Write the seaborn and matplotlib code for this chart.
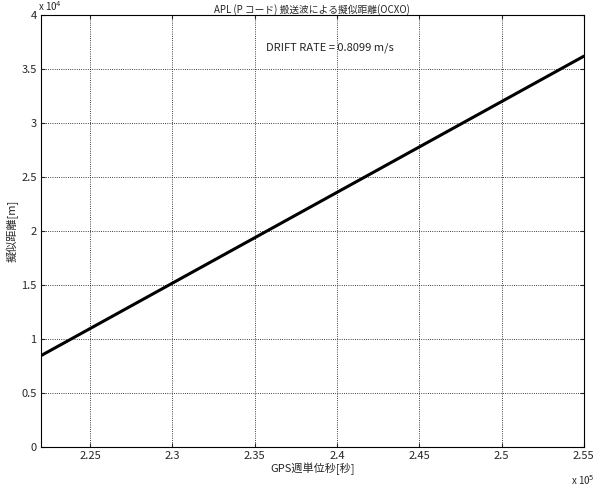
import matplotlib
matplotlib.use("Agg")
import matplotlib.pyplot as plt
import seaborn as sns
import pandas as pd

x_sec = [222000, 255000]
y_m = [8450, 36150]
title = "APL (P コード) 搬送波による擬似距離(OCXO)"
annot = "DRIFT RATE = 0.8099 m/s"

sns.set_style("ticks")
plt.rcParams['font.family'] = ['Noto Sans CJK JP', 'DejaVu Sans']

fig = plt.figure(figsize=(6, 4.86), dpi=100)
ax = fig.add_axes([0.068, 0.080, 0.905, 0.89])
df = pd.DataFrame({"x": x_sec, "y": y_m})
sns.lineplot(data=df, x="x", y="y", ax=ax, color="black", linewidth=2.2)
ax.set_xlim(222000, 255000)
ax.set_ylim(0, 40000)
xt = [225000, 230000, 235000, 240000, 245000, 250000, 255000]
ax.set_xticks(xt)
ax.set_xticklabels([f"{v/1e5:g}" for v in xt], fontsize=8)
yt = [i * 5000 for i in range(9)]
ax.set_yticks(yt)
ax.set_yticklabels(["0" if v == 0 else f"{v/1e4:g}" for v in yt], fontsize=8)
ax.grid(True, linestyle=":", color="black", linewidth=0.6)
ax.tick_params(direction="in", length=3, top=True, right=True, pad=3)
for s in ax.spines.values():
    s.set_color("black"); s.set_linewidth(0.8)
ax.set_xlabel("GPS週単位秒[秒]", fontsize=8, labelpad=1)
ax.set_ylabel("擬似距離[m]", fontsize=8, labelpad=2)
ax.set_title(title, fontsize=7, pad=1)
ax.text(-0.005, 1.004, "x 10$^4$", transform=ax.transAxes, fontsize=7, ha="left", va="bottom")
ax.text(1.02, -0.06, "x 10$^5$", transform=ax.transAxes, fontsize=7, ha="right", va="top")
ax.text(0.415, 0.935, annot, transform=ax.transAxes, fontsize=8, ha="left", va="top")
fig.savefig("out.png", dpi=100)
